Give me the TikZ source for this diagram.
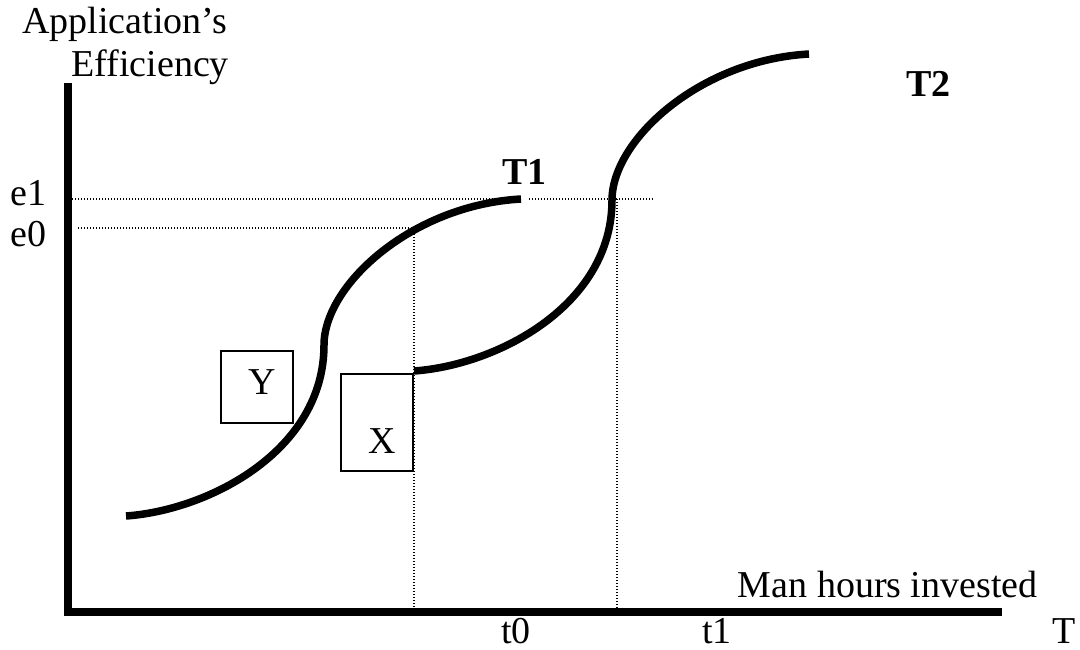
\documentclass[tikz,border=0pt]{standalone}
\usepackage{fontspec}
\setmainfont{Liberation Serif}
\begin{document}
\begin{tikzpicture}[x=0.5pt,y=-0.5pt,
  lbl/.style={inner sep=0pt, font=\fontsize{19}{23}\selectfont},
  blbl/.style={inner sep=0pt, font=\fontsize{19}{23}\selectfont\bfseries},
  axisline/.style={line width=4pt, line join=miter},
  scurve/.style={line width=3.75pt},
  guide/.style={line width=0.6pt, dash pattern=on 0.5pt off 1pt},
  boxn/.style={draw, line width=1pt, inner sep=0pt, minimum width=36pt}]
\useasboundingbox (0,0) rectangle (1080,649);
% axes
\coordinate (ytop) at (67.5,83);
\coordinate (orig) at (67.5,612);
\coordinate (xend) at (1002,612);
\draw[axisline] (ytop) -- (orig) -- (xend);
% guide lines
\coordinate (e1a) at (72,199);
\coordinate (e1b) at (520,199);
\coordinate (e1c) at (529,199);
\coordinate (e1d) at (655,199);
\coordinate (e0a) at (78,228);
\coordinate (p0) at (414,228);
\coordinate (t0b) at (414,608);
\coordinate (p1) at (617,199);
\coordinate (t1b) at (617,608);
\draw[guide] (e1a) -- (e1b);
\draw[guide] (e1c) -- (e1d);
\draw[guide] (e0a) -- (p0) -- (t0b);
\draw[guide] (p1) -- (t1b);
% curves
\draw[scurve] (126,516) .. controls (210,510) and (324,450) .. (324,345)
  .. controls (324,285) and (412,205) .. (521,199);
\draw[scurve] (414,371) .. controls (498,365) and (612,305) .. (612,200)
  .. controls (612,140) and (700,60) .. (809,54);
% boxes
\node[boxn, minimum height=36pt] (ybox) at (257,387) {};
\node[boxn, minimum height=48.5pt] (xbox) at (377,422.5) {};
\node[lbl, anchor=base] (ylab) at (262,394) {Y};
\node[lbl, anchor=base] (xlab) at (382,453) {X};
% labels
\node[lbl, anchor=base west] (app) at (22,33) {Application’s};
\node[lbl, anchor=base west] (eff) at (71,76) {Efficiency};
\node[lbl, anchor=base west] (le1) at (10,205) {e1};
\node[lbl, anchor=base west] (le0) at (10,246) {e0};
\node[blbl, anchor=base west] (lt1) at (502,184) {T1};
\node[blbl, anchor=base west] (lt2) at (906,96) {T2};
\node[lbl, anchor=base east] (man) at (1038,597) {Man hours invested};
\node[lbl, anchor=base west] (lt0) at (501,643) {t0};
\node[lbl, anchor=base west] (ltt1) at (702,643) {t1};
\node[lbl, anchor=base west] (lT) at (1052,643) {T};
\end{tikzpicture}
\end{document}
